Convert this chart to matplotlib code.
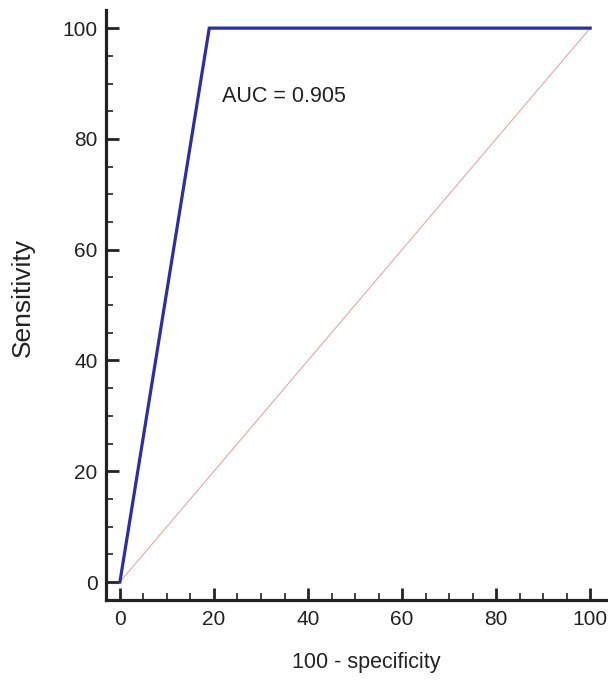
import matplotlib
matplotlib.use("Agg")
import matplotlib.pyplot as plt
from matplotlib.ticker import MultipleLocator

plt.rcParams['font.family'] = ['Liberation Sans', 'DejaVu Sans']

# ROC curve points (100 - specificity, sensitivity)
fpr = [0, 19, 100]
tpr = [0, 100, 100]
ref_x = [0, 100]
ref_y = [0, 100]
auc = 0.905

fig = plt.figure(figsize=(6.08, 6.84), dpi=100)
ax = fig.add_axes([0.174, 0.1228, 0.823, 0.862])

ax.plot(ref_x, ref_y, color='#e3a8a8', lw=0.8)
ax.plot(fpr, tpr, color='#2e2ea0', lw=2.3, solid_joinstyle='miter')

ax.set_xlim(-3, 103.4)
ax.set_ylim(-3.25, 103.2)

for s in ['top', 'right']:
    ax.spines[s].set_visible(False)
for s in ['left', 'bottom']:
    ax.spines[s].set_linewidth(2.3)
    ax.spines[s].set_color('#222222')

ax.xaxis.set_major_locator(MultipleLocator(20))
ax.xaxis.set_minor_locator(MultipleLocator(5))
ax.yaxis.set_major_locator(MultipleLocator(20))
ax.yaxis.set_minor_locator(MultipleLocator(5))
ax.tick_params(which='major', direction='in', length=9, width=2, color='#222222',
               labelsize=15, pad=7, labelcolor='#222222')
ax.tick_params(which='minor', direction='in', length=5, width=1.2, color='#222222')
ax.tick_params(axis='y', pad=6)

ax.text(21.7, 87.6, 'AUC = %.3f' % auc, fontsize=15.5, va='center', ha='left', color='#222222')

ax.set_xlabel('100 - specificity', fontsize=15.5, color='#222222')
ax.set_ylabel('Sensitivity', fontsize=19, color='#222222')
ax.xaxis.set_label_coords(0.52, -0.088)
ax.yaxis.set_label_coords(-0.142, 0.513)

fig.savefig('out.png', dpi=100)
